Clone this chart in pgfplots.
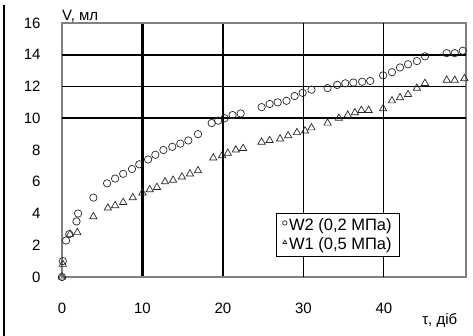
\documentclass[border=0pt]{standalone}
\usepackage{fontspec}
\setmainfont{Liberation Sans}
\usepackage{pgfplots}
\pgfplotsset{compat=1.18}
\begin{document}
\begin{tikzpicture}
\path[use as bounding box] (-62pt,-59pt) rectangle (411pt,277pt);
\draw[black, line width=1.2pt] (-58pt,-59pt) -- (-58pt,272pt);
\begin{axis}[
  at={(0pt,0pt)}, anchor=south west,
  scale only axis, width=404pt, height=254pt,
  xmin=0, xmax=50.2, ymin=0, ymax=16,
  xtick={0,10,20}, ytick={0,2,4,6,8,16},
  extra x ticks={30,40},
  extra x tick style={grid=major, major grid style={black, line width=0.9pt}},
  extra y ticks={10,12,14},
  extra y tick style={grid=major, major grid style={black, line width=1.9pt}},
  xmajorgrids, major grid style={black, line width=2.2pt},
  major tick length=0pt,
  axis line style={draw=gray, line width=1.6pt},
  /pgf/number format/assume math mode=true,
  tick label style={font=\fontsize{15}{17}\selectfont},
  yticklabel style={anchor=east, xshift=-18pt},
  xticklabel style={anchor=center, yshift=-31pt},
  legend style={at={(0.53,0.252)}, anchor=north west, draw=black, line width=1pt,
    fill=white, font=\fontsize{16.5}{19}\selectfont, inner xsep=6pt, inner ysep=3pt,
    row sep=2pt, cells={anchor=west}},
  legend image code/.code={\draw[#1, mark size=2.2pt] plot coordinates {(0.12cm,0.08cm)};},
  clip=false,
]
\addplot[only marks, mark=o, mark size=3.7pt, mark options={draw=black!85, line width=0.7pt, fill=white}] coordinates {
(0,0) (0.1,1.0) (0.5,2.3) (0.9,2.7) (1.8,3.5) (2,4.0) (3.9,5.0) (5.6,5.9) (6.6,6.2) (7.6,6.5) (8.7,6.8) (9.6,7.1)
(10.7,7.4) (11.6,7.7) (12.6,8.0) (13.7,8.2) (14.7,8.4) (15.7,8.6) (16.9,9.0)
(18.6,9.7) (19.4,9.85) (20.2,10.0) (21.2,10.2) (22.2,10.3)
(24.8,10.7) (25.8,10.9) (26.8,11.0) (27.9,11.1) (28.9,11.4) (29.9,11.6) (31,11.8)
(33,11.9) (34.2,12.1) (35.2,12.2) (36.2,12.25) (37.3,12.3) (38.3,12.35)
(39.9,12.7) (41,12.9) (42,13.2) (43,13.4) (44.1,13.6) (45.1,13.9)
(47.8,14.1) (48.8,14.1) (49.8,14.25)
};
\addlegendentry{W2 (0,2 МПа)}
\addplot[only marks, mark=triangle, mark size=4.2pt, mark options={draw=black!85, line width=0.7pt, fill=white}] coordinates {
(0,0) (0.1,0.8) (1.0,2.7) (1.9,2.8) (3.9,3.8) (5.7,4.35) (6.6,4.5) (7.6,4.7) (8.8,5.0)
(10,5.3) (10.9,5.5) (11.8,5.65) (12.8,6.0) (13.8,6.1) (14.9,6.3) (15.9,6.5) (16.9,6.7)
(18.8,7.5) (19.9,7.65) (20.6,7.8) (21.6,8.0) (22.5,8.1)
(24.8,8.5) (25.8,8.6) (27.1,8.7) (28.1,8.9) (29.2,9.1) (30.2,9.2) (31,9.4)
(33,9.7) (34.4,10.0) (35.5,10.2) (36.4,10.35) (37.2,10.5) (38.1,10.5)
(39.9,10.6) (41,11.1) (42,11.3) (43,11.5) (44.1,11.9) (45.1,12.2)
(47.8,12.4) (48.8,12.4) (50,12.5)
};
\addlegendentry{W1 (0,5 МПа)}
\node[font=\fontsize{15}{17}\selectfont, anchor=center] at (rel axis cs:0.045,1.025) {V, мл};
\node[font=\fontsize{15}{17}\selectfont, anchor=center] at (rel axis cs:0.935,-0.17) {τ, діб};
\end{axis}
\end{tikzpicture}
\end{document}
